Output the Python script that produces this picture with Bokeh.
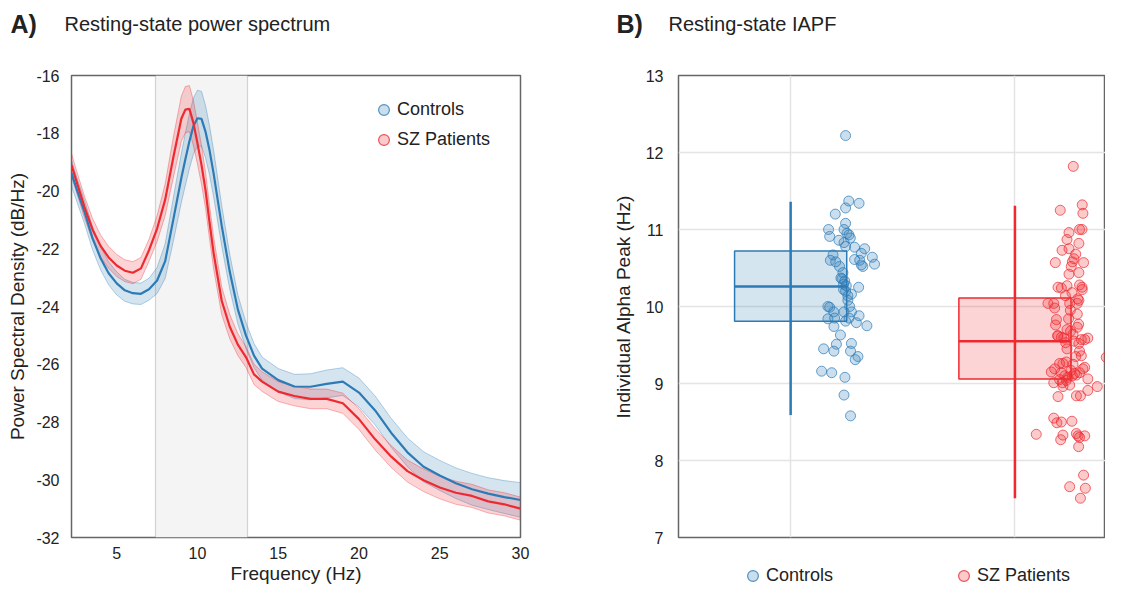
import numpy as np
from bokeh.plotting import figure
from bokeh.models import Legend, LegendItem, BoxAnnotation, Range1d, FixedTicker, Grid
from bokeh.core.properties import value
from bokeh.layouts import row, column
from bokeh.embed import file_html
from bokeh.resources import INLINE

# ---------------- data: panel A (power spectrum) ----------------
freqs = [2.2, 2.5, 3.0, 3.5, 4.0, 4.5, 5.0, 5.5, 6.0, 6.5, 7.0, 7.5, 8.0, 8.5, 9.0,
         9.25, 9.5, 9.75, 10.0, 10.25, 10.5, 10.75, 11.0, 11.5, 12.0, 12.5, 13.0,
         13.5, 14.0, 15.0, 16.0, 17.0, 18.0, 19.0, 20.0, 21.0, 22.0, 23.0, 24.0,
         25.0, 26.0, 27.0, 28.0, 29.0, 30.0]
ctrl_mean = [-19.38, -19.9, -20.72, -21.63, -22.33, -22.85, -23.2, -23.44, -23.54, -23.56,
             -23.4, -23.1, -22.43, -21.0, -19.55, -18.9, -18.28, -17.75, -17.48, -17.5,
             -17.95, -18.6, -19.4, -21.2, -22.8, -24.1, -25.0, -25.7, -26.15, -26.55,
             -26.77, -26.78, -26.68, -26.6, -26.98, -27.6, -28.38, -29.05, -29.55, -29.85,
             -30.12, -30.33, -30.48, -30.6, -30.7]
ctrl_sem = [0.45, 0.42, 0.4, 0.4, 0.4, 0.4, 0.4, 0.38, 0.37, 0.37, 0.38, 0.45, 0.6, 0.75,
            0.85, 0.9, 0.95, 0.97, 0.97, 0.95, 0.9, 0.85, 0.8, 0.7, 0.6, 0.5, 0.45, 0.42,
            0.4, 0.4, 0.42, 0.45, 0.48, 0.48, 0.5, 0.5, 0.5, 0.5, 0.52, 0.52, 0.53, 0.55,
            0.55, 0.57, 0.6]
sz_mean = [-19.1, -19.65, -20.55, -21.33, -21.9, -22.3, -22.58, -22.76, -22.83, -22.68,
           -22.05, -21.3, -20.3, -18.85, -17.5, -17.18, -17.15, -17.65, -18.35, -19.1,
           -19.98, -21.1, -22.15, -23.8, -24.7, -25.32, -25.75, -26.35, -26.6, -26.95,
           -27.1, -27.2, -27.2, -27.35, -27.9, -28.6, -29.2, -29.7, -30.02, -30.27,
           -30.45, -30.56, -30.75, -30.85, -31.0]
sz_sem = [0.4, 0.38, 0.38, 0.38, 0.38, 0.38, 0.38, 0.38, 0.38, 0.38, 0.38, 0.45, 0.55,
          0.7, 0.78, 0.8, 0.8, 0.78, 0.72, 0.67, 0.62, 0.58, 0.55, 0.48, 0.42, 0.38,
          0.36, 0.35, 0.34, 0.34, 0.34, 0.34, 0.34, 0.35, 0.36, 0.37, 0.38, 0.38, 0.39,
          0.39, 0.4, 0.4, 0.4, 0.4, 0.4]
alpha_band = [7.4, 13.1]
x_ticks_a = [5, 10, 15, 20, 25, 30]
y_ticks_a = [-32, -30, -28, -26, -24, -22, -20, -18, -16]

# ---------------- data: panel B (IAPF) ----------------
groups = ["Controls", "SZ Patients"]
group_pos = [1, 2]
box_q1 = [9.81, 9.06]
box_med = [10.26, 9.55]
box_q3 = [10.72, 10.11]
whisk_lo = [8.59, 7.51]
whisk_hi = [11.36, 11.31]
y_ticks_b = [7, 8, 9, 10, 11, 12, 13]

ctrl_iapf = [11.37, 11.34, 11.28, 11.20, 11.08, 11.00, 11.00, 10.91, 10.95, 10.93, 10.89,
             10.86, 10.83, 10.78, 10.77, 10.75, 10.69, 10.67, 10.64, 10.60, 10.58, 10.61,
             10.60, 10.55, 10.54, 10.52, 10.52, 10.44, 10.36, 10.33, 10.29, 10.27, 10.25,
             10.22, 10.20, 10.16, 10.14, 10.08, 10.00, 10.00, 9.99, 9.93, 9.93, 9.93, 9.88,
             9.84, 9.85, 9.81, 9.85, 9.79, 9.75, 9.74, 9.63, 9.51, 9.52, 9.45, 9.42, 9.42,
             9.35, 9.31, 9.16, 9.14, 9.08, 8.85, 8.58, 12.22, 10.37]
ctrl_jitter = [0.259, 0.305, 0.245, 0.199, 0.245, 0.169, 0.238, 0.174, 0.251, 0.260, 0.266,
               0.215, 0.238, 0.245, 0.285, 0.330, 0.315, 0.189, 0.364, 0.177, 0.201, 0.285,
               0.308, 0.374, 0.315, 0.322, 0.218, 0.233, 0.229, 0.241, 0.236, 0.248, 0.303,
               0.236, 0.245, 0.271, 0.255, 0.255, 0.263, 0.166, 0.174, 0.192, 0.238, 0.271,
               0.305, 0.166, 0.196, 0.245, 0.260, 0.293, 0.340, 0.193, 0.222, 0.204, 0.271,
               0.147, 0.193, 0.267, 0.300, 0.288, 0.138, 0.183, 0.242, 0.238, 0.267, 0.245,
               0.224]
sz_iapf = [11.82, 11.25, 11.32, 11.21, 11.00, 11.00, 10.96, 10.87, 10.82, 10.73, 10.75,
           10.68, 10.62, 10.58, 10.57, 10.57, 10.52, 10.44, 10.42, 10.25, 10.24, 10.27,
           10.28, 10.25, 10.22, 10.18, 10.14, 10.08, 10.04, 10.04, 9.98, 10.04, 10.04,
           9.95, 9.90, 9.84, 9.83, 9.76, 9.77, 9.73, 9.70, 9.68, 9.64, 9.62, 9.60, 9.59,
           9.53, 9.55, 9.57, 9.57, 9.59, 9.52, 9.45, 9.42, 9.35, 9.34, 9.36, 9.28, 9.26,
           9.26, 9.25, 9.21, 9.19, 9.19, 9.15, 9.14, 9.13, 9.14, 9.10, 9.08, 9.10, 9.11,
           9.05, 9.06, 9.01, 9.01, 9.04, 8.98, 8.96, 8.96, 8.91, 8.84, 8.84, 8.83, 8.55,
           8.49, 8.50, 8.51, 8.34, 8.33, 8.27, 8.35, 8.32, 8.30, 8.32, 8.18, 7.81, 7.66,
           7.64, 7.51, 9.17, 9.62, 10.10]
sz_jitter = [0.260, 0.202, 0.300, 0.303, 0.288, 0.299, 0.241, 0.232, 0.285, 0.210, 0.241,
             0.271, 0.263, 0.256, 0.180, 0.306, 0.251, 0.285, 0.241, 0.192, 0.207, 0.232,
             0.288, 0.299, 0.300, 0.254, 0.225, 0.285, 0.147, 0.173, 0.177, 0.244, 0.278,
             0.247, 0.278, 0.239, 0.185, 0.181, 0.284, 0.278, 0.232, 0.248, 0.259, 0.192,
             0.207, 0.218, 0.226, 0.263, 0.296, 0.311, 0.325, 0.285, 0.232, 0.288, 0.271,
             0.407, 0.296, 0.229, 0.199, 0.214, 0.259, 0.311, 0.177, 0.303, 0.162, 0.207,
             0.266, 0.288, 0.222, 0.236, 0.256, 0.274, 0.199, 0.325, 0.173, 0.211, 0.229,
             0.244, 0.214, 0.367, 0.325, 0.274, 0.292, 0.192, 0.173, 0.187, 0.207, 0.254,
             0.095, 0.214, 0.204, 0.274, 0.281, 0.288, 0.311, 0.284, 0.306, 0.244, 0.314,
             0.292, 0.250, 0.190, 0.280]

panel_letters = ["A)", "B)"]
panel_titles = ["Resting-state power spectrum", "Resting-state IAPF"]

# ---------------- styles ----------------
FONT = "Liberation Sans"
BLUE = "#2c7bb6"
RED = "#ee2a30"
FRAME = "#666666"
TXT = "#222222"
W1, W2 = 559, 546
HEAD_H = 40
MAIN_H = 546
TOP = 35
BOTTOM = 49
FRAME_H = MAIN_H - TOP - BOTTOM
P2_BOTTOM = 12
FOOT_H = MAIN_H - (TOP + FRAME_H + P2_BOTTOM)
B_LEFT = 119
B_XMAX = 0.5 + (W2 - B_LEFT) / 224.3


def style_axes(p):
    for ax in p.axis:
        ax.axis_line_color = None
        ax.major_tick_line_color = None
        ax.minor_tick_line_color = None
        ax.major_label_text_font = FONT
        ax.major_label_text_font_size = "16px"
        ax.major_label_text_color = TXT
        ax.axis_label_text_font = FONT
        ax.axis_label_text_font_size = "19px"
        ax.axis_label_text_font_style = "normal"
        ax.axis_label_text_color = TXT
    p.outline_line_color = FRAME
    p.outline_line_width = 1.5


def blank(width, height, left=0):
    b = figure(width=width, height=height, x_range=Range1d(0, width - left),
               y_range=Range1d(0, height), x_axis_type=None, y_axis_type=None,
               output_backend="svg", toolbar_location=None, min_border=0,
               min_border_left=left)
    b.outline_line_color = None
    b.grid.visible = False
    return b


def header(width, letter_x, title_x, letter, title):
    h = blank(width, HEAD_H)
    h.text(x=[letter_x], y=[16.5], text=[letter], text_font=value(FONT),
           text_font_size="25px", text_font_style="bold", text_color=TXT,
           text_baseline="alphabetic")
    h.text(x=[title_x], y=[16.5], text=[title], text_font=value(FONT),
           text_font_size="20px", text_color=TXT, text_baseline="alphabetic")
    return h


def make_legend(items, **kw):
    return Legend(items=items, border_line_color=None, background_fill_alpha=0,
                  padding=0, margin=0, glyph_width=27, glyph_height=27, label_standoff=0,
                  label_text_font=FONT, label_text_font_size="18px",
                  label_text_color=TXT, label_height=27, **kw)


h1 = header(W1, 10, 64, panel_letters[0], panel_titles[0])
h2 = header(W2, 57, 109, panel_letters[1], panel_titles[1])

# ---------------- panel A ----------------
p1 = figure(width=W1, height=MAIN_H, x_range=Range1d(2.2, 30),
            y_range=Range1d(-32, -16), output_backend="svg", toolbar_location=None,
            min_border_left=71, min_border_top=TOP, min_border_right=39,
            min_border_bottom=BOTTOM)
p1.grid.visible = False
style_axes(p1)
p1.xaxis.ticker = FixedTicker(ticks=x_ticks_a)
p1.yaxis.ticker = FixedTicker(ticks=y_ticks_a)
p1.yaxis.major_label_overrides = {t: str(t) for t in y_ticks_a}
p1.xaxis.axis_label = "Frequency (Hz)"
p1.yaxis.axis_label = "Power Spectral Density (dB/Hz)"
p1.xaxis.major_label_standoff = 3
p1.yaxis.major_label_standoff = 6
p1.xaxis.axis_label_standoff = 1
p1.yaxis.axis_label_standoff = 5

band = BoxAnnotation(left=alpha_band[0], right=alpha_band[1], fill_color="#f4f4f4",
                     fill_alpha=1.0, line_color="#777777", line_width=1.2, level="underlay")
p1.add_layout(band)

f = np.array(freqs)
for mean, sem, col in [(ctrl_mean, ctrl_sem, BLUE), (sz_mean, sz_sem, RED)]:
    m = np.array(mean)
    s = np.array(sem)
    p1.varea(x=f, y1=m - s, y2=m + s, fill_color=col, fill_alpha=0.2)
    p1.line(f, m - s, line_color=col, line_alpha=0.35, line_width=1)
    p1.line(f, m + s, line_color=col, line_alpha=0.35, line_width=1)
for mean, col in [(ctrl_mean, BLUE), (sz_mean, RED)]:
    p1.line(f, mean, line_color=col, line_width=2.2)

lg_c = p1.scatter(x=freqs[:1], y=ctrl_mean[:1], marker="circle", size=11, fill_color=BLUE,
                  fill_alpha=0.25, line_color=BLUE, line_alpha=0.8, line_width=1.2,
                  visible=False)
lg_s = p1.scatter(x=freqs[:1], y=sz_mean[:1], marker="circle", size=11, fill_color=RED,
                  fill_alpha=0.25, line_color=RED, line_alpha=0.8, line_width=1.2,
                  visible=False)
leg1 = make_legend([LegendItem(label=groups[0], renderers=[lg_c]),
                    LegendItem(label=groups[1], renderers=[lg_s])],
                   location=(299, FRAME_H - 78), spacing=3)
p1.add_layout(leg1, "center")

# ---------------- panel B ----------------
p2 = figure(width=W2, height=TOP + FRAME_H + P2_BOTTOM, x_range=Range1d(0.5, B_XMAX),
            y_range=Range1d(7, 13), output_backend="svg", toolbar_location=None,
            x_axis_type=None,
            min_border_left=B_LEFT, min_border_top=TOP, min_border_right=0,
            min_border_bottom=P2_BOTTOM)
style_axes(p2)
p2.yaxis.ticker = FixedTicker(ticks=y_ticks_b)
p2.yaxis.axis_label = "Individual Alpha Peak (Hz)"
p2.yaxis.major_label_standoff = 9
p2.yaxis.axis_label_standoff = 9
p2.add_layout(Grid(dimension=0, ticker=FixedTicker(ticks=group_pos)))
p2.grid.grid_line_color = "#e4e4e4"
p2.grid.grid_line_width = 1.5

half = 0.25
cols = [BLUE, RED]
for i in range(2):
    x0 = group_pos[i]
    p2.quad(left=[x0 - half], right=[x0 + half], bottom=[box_q1[i]], top=[box_q3[i]],
            fill_color=cols[i], fill_alpha=0.2, line_color=cols[i], line_width=1.5)
    p2.segment(x0=[x0 - half], x1=[x0 + half], y0=[box_med[i]], y1=[box_med[i]],
               line_color=cols[i], line_width=2.5)
    p2.segment(x0=[x0], x1=[x0], y0=[whisk_lo[i]], y1=[whisk_hi[i]],
               line_color=cols[i], line_width=2.5)

p2.scatter(x=group_pos[0] + np.array(ctrl_jitter), y=ctrl_iapf, marker="circle",
           size=10, fill_color=BLUE, fill_alpha=0.25, line_color=BLUE,
           line_alpha=0.7, line_width=1)
p2.scatter(x=group_pos[1] + np.array(sz_jitter), y=sz_iapf, marker="circle",
           size=10, fill_color=RED, fill_alpha=0.25, line_color=RED,
           line_alpha=0.7, line_width=1)

# footer holding the group legend under panel B
f2 = blank(W2, FOOT_H, left=B_LEFT)
fc = f2.scatter(x=[0], y=[0], marker="circle", size=10, fill_color=BLUE, fill_alpha=0.25,
                line_color=BLUE, line_alpha=0.8, line_width=1.2, visible=False)
fs = f2.scatter(x=[0], y=[0], marker="circle", size=10, fill_color=RED, fill_alpha=0.25,
                line_color=RED, line_alpha=0.8, line_width=1.2, visible=False)
leg2 = make_legend([LegendItem(label=groups[0], renderers=[fc]),
                    LegendItem(label=groups[1], renderers=[fs])],
                   location=(61, -3), orientation="horizontal", spacing=117)
f2.add_layout(leg2, "center")

layout = column(row(h1, h2, spacing=0),
                row(p1, column(p2, f2, spacing=0), spacing=0), spacing=0)
open("out.html", "w").write(file_html(layout, INLINE))
